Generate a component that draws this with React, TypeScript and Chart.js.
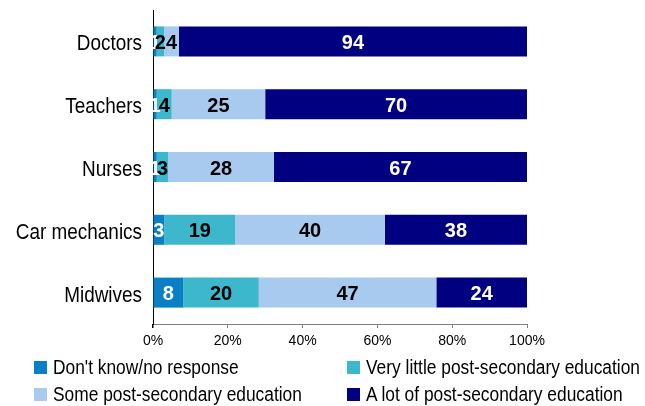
import React, { useEffect, useRef } from "react";
import { Chart, registerables } from "chart.js";

Chart.register(...registerables);

const categories = ["Doctors", "Teachers", "Nurses", "Car mechanics", "Midwives"];
const dontKnow = [1, 1, 1, 3, 8];
const veryLittle = [2, 4, 3, 19, 20];
const some = [4, 25, 28, 40, 47];
const aLot = [94, 70, 67, 38, 24];
const seriesNames = [
  "Don't know/no response",
  "Very little post-secondary education",
  "Some post-secondary education",
  "A lot of post-secondary education",
];
const colors = ["#0a7fc4", "#3db7cb", "#a8caef", "#000080"];
const labelColors = ["#ffffff", "#000000", "#000000", "#ffffff"];
const xTicks = [0, 20, 40, 60, 80, 100];

const FONT = "'Liberation Sans', Arial, sans-serif";

const rawSeries = [dontKnow, veryLittle, some, aLot];
const totals = categories.map((_, i) => rawSeries.reduce((s, d) => s + d[i], 0));

const labelPlugin = {
  id: "segLabels",
  afterDatasetsDraw(chart: any) {
    const ctx = chart.ctx;
    ctx.save();
    ctx.font = `bold 20px ${FONT}`;
    ctx.textAlign = "center";
    ctx.textBaseline = "alphabetic";
    chart.data.datasets.forEach((ds: any, di: number) => {
      const meta = chart.getDatasetMeta(di);
      meta.data.forEach((bar: any, i: number) => {
        const v = rawSeries[di][i];
        const p = bar.getProps(["x", "y", "base"], true);
        const cx = (p.x + p.base) / 2;
        ctx.fillStyle = labelColors[di];
        ctx.fillText(String(v), cx, p.y + 7.5);
      });
    });
    ctx.restore();
  },
  afterDraw(chart: any) {
    const ctx = chart.ctx;
    const ys = chart.scales.y;
    const area = chart.chartArea;
    ctx.save();
    ctx.font = `22px ${FONT}`;
    ctx.fillStyle = "#000";
    ctx.textAlign = "right";
    ctx.textBaseline = "alphabetic";
    categories.forEach((c, i) => {
      const y = ys.getPixelForValue(i);
      ctx.save();
      ctx.translate(area.left - 11, y + 9);
      ctx.scale(0.86, 1);
      ctx.fillText(c, 0, 0);
      ctx.restore();
    });
    ctx.strokeStyle = "#000";
    ctx.lineWidth = 1;
    ctx.beginPath();
    ctx.moveTo(Math.round(area.left) - 0.5, area.bottom);
    ctx.lineTo(Math.round(area.left) - 0.5, area.bottom + 4);
    ctx.stroke();
    ctx.restore();
  },
};

export default function App() {
  const ref = useRef<HTMLCanvasElement>(null);
  useEffect(() => {
    if (!ref.current) return;
    const chart = new Chart(ref.current, {
      type: "bar",
      data: {
        labels: categories,
        datasets: rawSeries.map((d, i) => ({
          label: seriesNames[i],
          data: d.map((v, j) => (v / totals[j]) * 100),
          backgroundColor: colors[i],
          borderWidth: 0,
          categoryPercentage: 1,
          barPercentage: 0.478,
        })),
      },
      options: {
        indexAxis: "y",
        animation: false,
        responsive: false,
        maintainAspectRatio: false,
        layout: { padding: { top: 10, right: 118, bottom: 57, left: 0 } },
        plugins: { legend: { display: false }, tooltip: { enabled: false } },
        scales: {
          x: {
            stacked: true,
            min: 0,
            max: 100,
            afterBuildTicks: (s: any) => {
              s.ticks = xTicks.map((v) => ({ value: v }));
            },
            afterFit: (s: any) => {
              s.height = 25;
            },
            ticks: {
              callback: (v: any) => v + "%",
              font: { family: FONT, size: 14 },
              color: "#000",
              padding: 5,
              maxRotation: 0,
            },
            grid: {
              display: true,
              drawOnChartArea: false,
              drawTicks: true,
              tickLength: 4,
              color: "#808080",
            },
            border: { display: true, color: "#808080", width: 1 },
          },
          y: {
            stacked: true,
            afterFit: (s: any) => {
              s.width = 153;
            },
            ticks: { display: false },
            grid: { display: false, drawTicks: false },
            border: { display: true, color: "#000", width: 1 },
          },
        },
      },
      plugins: [labelPlugin],
    });
    return () => chart.destroy();
  }, []);

  const legendItem = (i: number, left: number, top: number) => (
    <React.Fragment key={i}>
      <span
        style={{
          position: "absolute",
          left,
          top: top + 4,
          width: 13,
          height: 13,
          background: colors[i],
        }}
      />
      <span
        style={{
          position: "absolute",
          left: left + 19,
          top,
          fontFamily: FONT,
          fontSize: 19.5,
          lineHeight: "20px",
          color: "#000",
          whiteSpace: "nowrap",
          transform: "scaleX(0.89)",
          transformOrigin: "left center",
        }}
      >
        {seriesNames[i]}
      </span>
    </React.Fragment>
  );

  return (
    <div style={{ position: "fixed", left: 0, top: 0, width: 645, height: 406, background: "#fff", overflow: "hidden" }}>
      <canvas ref={ref} width={645} height={406} style={{ display: "block" }} />
      {legendItem(0, 34, 357)}
      {legendItem(1, 347, 357)}
      {legendItem(2, 34, 384)}
      {legendItem(3, 347, 384)}
    </div>
  );
}
